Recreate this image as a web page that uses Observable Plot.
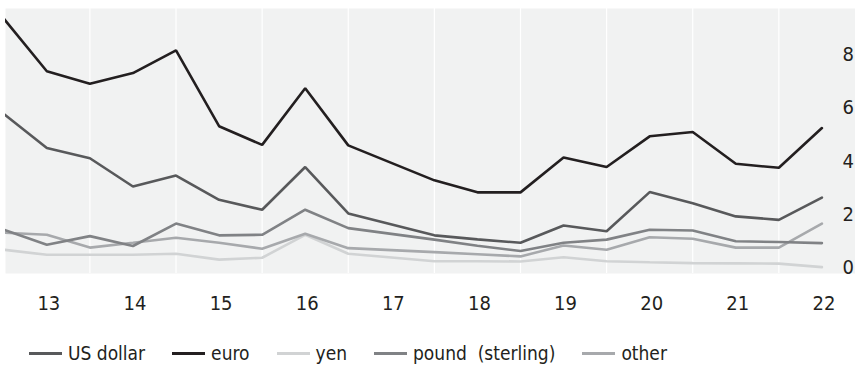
<!DOCTYPE html>
<html>
<head>
<meta charset="utf-8">
<script src="https://cdn.jsdelivr.net/npm/d3@7"></script>
<script src="https://cdn.jsdelivr.net/npm/@observablehq/plot@0.6"></script>
<style>
  html, body { margin: 0; padding: 0; background: #fff; overflow: hidden; }
  body { width: 855px; height: 365px; font-family: "Liberation Sans Narrow", "DejaVu Sans Condensed", "Liberation Sans", sans-serif; }
  #legend { display: flex; align-items: center; height: 22px; line-height: 22px; padding-left: 29px; font-size: 19px; color: #231f20; margin-top: 2px; }
  #legend .item { display: flex; align-items: center; margin-right: 27px; white-space: pre; }
  #legend .sw { width: 33px; height: 3px; margin-right: 6px; }
</style>
</head>
<body>
<div id="chart"></div>
<div id="legend"></div>
<script>
const periods = [12.5, 13, 13.5, 14, 14.5, 15, 15.5, 16, 16.5, 17.5, 18, 18.5, 19, 19.5, 20, 20.5, 21, 21.5, 22];
const usDollar = [5.77, 4.49, 4.11, 3.05, 3.46, 2.55, 2.18, 3.78, 2.04, 1.22, 1.07, 0.94, 1.59, 1.37, 2.84, 2.42, 1.93, 1.80, 2.63];
const euro     = [9.34, 7.37, 6.90, 7.30, 8.15, 5.31, 4.61, 6.73, 4.59, 3.28, 2.83, 2.83, 4.14, 3.78, 4.93, 5.09, 3.90, 3.75, 5.24];
const yen      = [0.68, 0.49, 0.49, 0.49, 0.53, 0.31, 0.38, 1.24, 0.53, 0.25, 0.25, 0.24, 0.40, 0.25, 0.21, 0.18, 0.17, 0.16, 0.03];
const pound    = [1.43, 0.87, 1.19, 0.82, 1.66, 1.22, 1.24, 2.18, 1.49, 1.06, 0.83, 0.63, 0.94, 1.06, 1.43, 1.40, 1.00, 0.97, 0.93];
const other    = [1.32, 1.24, 0.76, 0.94, 1.13, 0.94, 0.72, 1.28, 0.74, 0.59, 0.51, 0.43, 0.84, 0.68, 1.15, 1.09, 0.76, 0.76, 1.66];

const seriesNames = ["US dollar", "euro", "yen", "pound  (sterling)", "other"];
const seriesValues = [usDollar, euro, yen, pound, other];
const seriesColors = ["#58595b", "#231f20", "#d1d3d4", "#808285", "#a7a9ac"];
const drawOrder = ["yen", "other", "pound  (sterling)", "US dollar", "euro"];

const xTicks = [13, 14, 15, 16, 17, 18, 19, 20, 21, 22];
const xTickLabels = ["13", "14", "15", "16", "17", "18", "19", "20", "21", "22"];
const gridTicks = [13.5, 14.5, 15.5, 16.5, 17.5, 18.5, 19.5, 20.5, 21.5];
const yTicks = [0, 2, 4, 6, 8];

const rows = [];
drawOrder.forEach(name => {
  const i = seriesNames.indexOf(name);
  periods.forEach((p, j) => rows.push({series: name, x: p, y: seriesValues[i][j]}));
});

const fontFamily = '"Liberation Sans Narrow", "DejaVu Sans Condensed", "Liberation Sans", sans-serif';

const chart = Plot.plot({
  width: 855,
  height: 340,
  marginTop: 8,
  marginBottom: 67,
  marginLeft: 5,
  marginRight: 0,
  style: {fontFamily, fontSize: "20px", color: "#231f20", background: "transparent"},
  x: {domain: [12.52, 22.39], axis: null},
  y: {domain: [-0.21, 9.72], axis: null},
  color: {domain: seriesNames, range: seriesColors},
  marks: [
    Plot.frame({fill: "#f1f2f2", stroke: null}),
    Plot.ruleX(gridTicks, {stroke: "#ffffff", strokeWidth: 1.2}),
    Plot.line(rows, {x: "x", y: "y", z: "series", stroke: "series", strokeWidth: 2.6, clip: true, strokeLinejoin: "miter"}),
    Plot.axisX(xTicks, {label: null, tickSize: 0, tickPadding: 22, tickFormat: (d, i) => xTickLabels[i], fontSize: 20, fill: "#231f20", dx: 2}),
    Plot.axisY(yTicks, {label: null, anchor: "right", tickSize: 0, tickPadding: 0, dx: -13, textAnchor: "start", fontSize: 20, fill: "#231f20"})
  ]
});
document.getElementById("chart").appendChild(chart);

const legend = document.getElementById("legend");
seriesNames.forEach((name, i) => {
  const item = document.createElement("div");
  item.className = "item";
  const sw = document.createElement("span");
  sw.className = "sw";
  sw.style.background = seriesColors[i];
  const label = document.createElement("span");
  label.textContent = name;
  item.appendChild(sw);
  item.appendChild(label);
  legend.appendChild(item);
});
</script>
</body>
</html>
